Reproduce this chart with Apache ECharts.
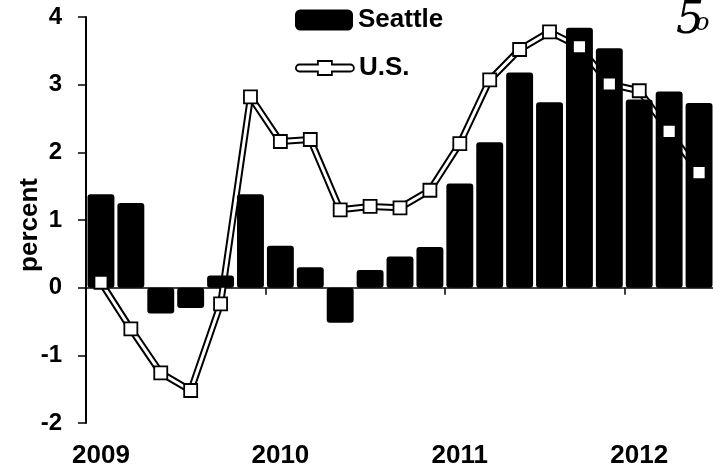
<!DOCTYPE html>
<html>
<head>
<meta charset="utf-8">
<script src="https://cdn.jsdelivr.net/npm/echarts@6/dist/echarts.min.js"></script>
<style>
html,body{margin:0;padding:0;background:#fff;}
#chart{width:713px;height:472px;}
</style>
</head>
<body>
<div id="chart"></div>
<script>
// Bimonthly periods, Jan 2009 .. mid 2012
const categories = [
  '2009-1','2009-2','2009-3','2009-4','2009-5','2009-6',
  '2010-1','2010-2','2010-3','2010-4','2010-5','2010-6',
  '2011-1','2011-2','2011-3','2011-4','2011-5','2011-6',
  '2012-1','2012-2','2012-3'
];
const seattle = [1.38, 1.25, -0.38, -0.30, 0.18, 1.38,
                 0.62, 0.30, -0.52, 0.26, 0.46, 0.60,
                 1.54, 2.15, 3.18, 2.74, 3.84, 3.54,
                 2.78, 2.90, 2.73];
const us = [0.08, -0.61, -1.26, -1.52, -0.24, 2.82,
            2.16, 2.19, 1.15, 1.20, 1.18, 1.44,
            2.13, 3.07, 3.52, 3.78, 3.56, 3.01,
            2.91, 2.31, 1.70];
const yTicks = [-2, -1, 0, 1, 2, 3, 4];

const chart = echarts.init(document.getElementById('chart'), null, {renderer: 'canvas'});
const FONT = 'Liberation Sans, Arial, sans-serif';

const option = {
  backgroundColor: '#fff',
  animation: false,
  grid: {left: 86, top: 17, width: 628, height: 406, containLabel: false, outerBoundsMode: 'none'},
  legend: [
    {
      orient: 'vertical', left: 295, top: 7, padding: 0,
      itemWidth: 58, itemHeight: 21, itemGap: 24,
      selectedMode: false,
      textStyle: {fontFamily: FONT, fontWeight: 'bold', fontSize: 26, color: '#000'},
      data: [{name: 'Seattle', icon: 'roundRect', itemStyle: {color: '#000'}}]
    },
    {
      orient: 'vertical', left: 295, top: 55, padding: 0,
      itemWidth: 58, itemHeight: 14,
      selectedMode: false,
      textStyle: {fontFamily: FONT, fontWeight: 'bold', fontSize: 26, color: '#000'},
      data: [{
        name: 'U.S.',
        icon: 'path://M3.5,3.5 L22,3.5 L22,0 L36,0 L36,3.5 L54.5,3.5 A3.5,3.5 0 0 1 54.5,10.5 L36,10.5 L36,14 L22,14 L22,10.5 L3.5,10.5 A3.5,3.5 0 0 1 3.5,3.5 Z',
        itemStyle: {color: '#fff', borderColor: '#000', borderWidth: 1.8}
      }]
    }
  ],
  xAxis: [
    {
      type: 'category', data: categories, position: 'bottom',
      boundaryGap: true,
      axisLine: {show: false, onZero: false},
      axisTick: {show: false},
      splitLine: {show: false},
      axisLabel: {
        interval: 0, margin: 20,
        fontFamily: FONT, fontWeight: 'bold', fontSize: 26, color: '#000',
        formatter: function (v) { return v.split('-')[1] === '1' ? v.split('-')[0] : ''; }
      }
    },
    {
      type: 'category', data: categories, position: 'bottom',
      boundaryGap: true,
      axisLine: {show: true, onZero: true, lineStyle: {color: '#000', width: 1.5}},
      axisTick: {show: true, length: 7, lineStyle: {color: '#000', width: 1.5},
                 interval: function (i) { return i % 6 === 0; }},
      axisLabel: {show: false},
      splitLine: {show: false}
    }
  ],
  yAxis: {
    type: 'value', min: -2, max: 4, interval: 1,
    name: 'percent', nameLocation: 'middle', nameGap: 43, nameMoveOverlap: false,
    nameTextStyle: {fontFamily: FONT, fontWeight: 'bold', fontSize: 26, color: '#000', padding: [0, 10, 0, 0]},
    axisLine: {show: true, lineStyle: {color: '#000', width: 2}},
    axisTick: {show: true, length: 8, lineStyle: {color: '#000', width: 1.5}},
    splitLine: {show: false},
    axisLabel: {
      margin: 24, fontFamily: FONT, fontWeight: 'bold', fontSize: 24, color: '#000',
      formatter: function (v) { return yTicks.indexOf(v) >= 0 ? String(v) : ''; }
    }
  },
  series: [
    {
      name: 'US outline', type: 'line', data: us, xAxisIndex: 0, z: 1,
      symbol: 'none', silent: true,
      lineStyle: {color: '#000', width: 7}
    },
    {
      name: 'US core', type: 'line', data: us, xAxisIndex: 0, z: 1,
      symbol: 'none', silent: true,
      lineStyle: {color: '#fff', width: 3}
    },
    {
      name: 'Seattle', type: 'bar', data: seattle, xAxisIndex: 0, z: 2,
      barCategoryGap: '10%',
      itemStyle: {color: '#000', borderRadius: 3}
    },
    {
      name: 'U.S.', type: 'scatter', data: us, xAxisIndex: 0, z: 3,
      symbol: 'rect', symbolSize: 13,
      itemStyle: {color: '#fff', borderColor: '#000', borderWidth: 1.8, opacity: 1}
    }
  ],
  graphic: [
    {type: 'text', left: 676, top: 0, style: {text: '5', fontFamily: 'DejaVu Serif', fontStyle: 'italic', fontSize: 44, fill: '#000'}},
    {type: 'text', left: 695, top: 12, style: {text: 'o', fontFamily: 'DejaVu Serif', fontStyle: 'italic', fontSize: 24, fill: '#000'}}
  ]
};
chart.setOption(option);
</script>
</body>
</html>
